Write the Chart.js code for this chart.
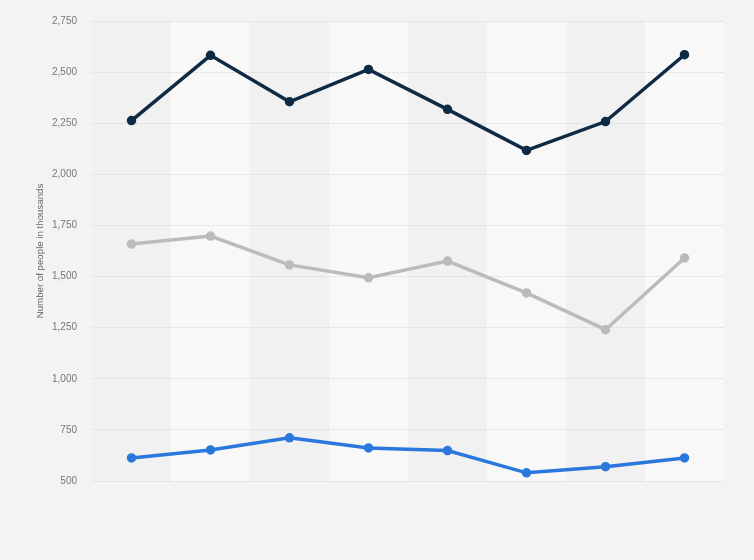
<!DOCTYPE html>
<html>
<head>
<meta charset="utf-8">
<script src="https://cdn.jsdelivr.net/npm/chart.js@4"></script>
<style>
  html, body { margin: 0; padding: 0; background: #f3f3f3; }
  #wrap { width: 754px; height: 560px; }
</style>
</head>
<body>
<div id="wrap"><canvas id="chart" width="754" height="560"></canvas></div>
<script>
// 8 points, the x labels are empty in the original
const categories = ["", "", "", "", "", "", "", ""];
const seriesTop = [2263, 2582, 2355, 2513, 2318, 2117, 2258, 2585];
const seriesMid = [1659, 1698, 1557, 1494, 1576, 1420, 1240, 1591];
const seriesLow = [613, 652, 711, 662, 649, 540, 570, 613];
const yTicks = [500, 750, 1000, 1250, 1500, 1750, 2000, 2250, 2500, 2750];

// alternating column bands behind the grid
const bandPlugin = {
  id: "bands",
  beforeDraw(chart) {
    const ctx = chart.ctx;
    const area = chart.chartArea;
    const x = chart.scales.x;
    ctx.save();
    ctx.fillStyle = "#f3f3f3";
    ctx.fillRect(0, 0, chart.width, chart.height);
    for (let i = 0; i < categories.length; i++) {
      const c = x.getPixelForValue(i);
      const half = (x.getPixelForValue(1) - x.getPixelForValue(0)) / 2;
      ctx.fillStyle = i % 2 === 0 ? "#f1f1f1" : "#f8f8f8";
      ctx.fillRect(c - half, area.top, half * 2, area.bottom - area.top);
    }
    ctx.restore();
  }
};

function line(data, color) {
  return {
    data: data,
    borderColor: color,
    backgroundColor: color,
    borderWidth: 3.5,
    pointRadius: 3,
    pointHoverRadius: 3,
    tension: 0
  };
}

new Chart(document.getElementById("chart").getContext("2d"), {
  type: "line",
  data: {
    labels: categories,
    datasets: [
      line(seriesTop, "#0f2a44"),
      line(seriesMid, "#bbbbbb"),
      line(seriesLow, "#2a78de")
    ]
  },
  plugins: [bandPlugin],
  options: {
    responsive: false,
    animation: false,
    layout: { padding: { left: 35, right: 30, top: 12, bottom: 71 } },
    plugins: { legend: { display: false }, tooltip: { enabled: false } },
    scales: {
      x: {
        offset: true,
        grid: { display: false },
        border: { display: false },
        ticks: { display: false }
      },
      y: {
        min: 500,
        max: 2750,
        afterBuildTicks(scale) {
          scale.ticks = yTicks.map(v => ({ value: v }));
        },
        afterFit(scale) { scale.width = 57; },
        border: { display: false, dash: [1, 1] },
        grid: { color: "#d6d6d6", drawTicks: false, lineWidth: 1 },
        ticks: {
          color: "#777",
          font: { family: "'Liberation Sans', Arial", size: 10 },
          padding: 15,
          callback: v => v.toLocaleString("en-US")
        },
        title: {
          display: true,
          text: "Number of people in thousands",
          color: "#666",
          font: { family: "'Liberation Sans', Arial", size: 9.7 },
          padding: { top: 0, bottom: 0 }
        }
      }
    }
  }
});
</script>
</body>
</html>
